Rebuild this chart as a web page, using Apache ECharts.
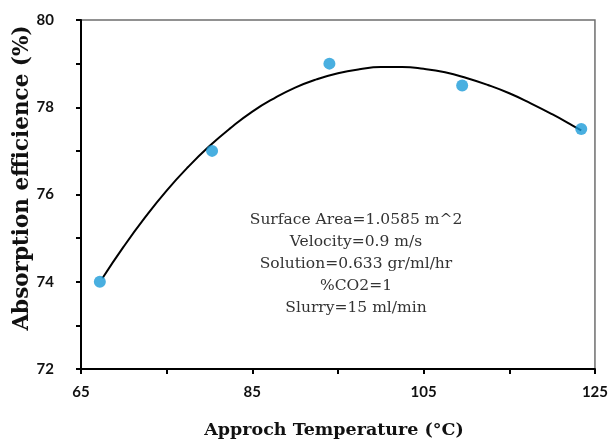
<!DOCTYPE html>
<html>
<head>
<meta charset="utf-8">
<script src="https://cdn.jsdelivr.net/npm/echarts@6/dist/echarts.min.js"></script>
<style>html,body{margin:0;padding:0;background:#fff}#chart{width:611px;height:440px}</style>
</head>
<body>
<div id="chart"></div>
<script>
// measured points
const tempValues = [67.2, 80.3, 94.0, 109.5, 123.4];
const effValues = [74.0, 77.0, 79.0, 78.5, 77.5];
// trend curve
const curveX = [67.5, 70, 72.5, 75, 77.5, 80, 82.5, 85, 87.5, 90, 92.5, 95, 97.5, 100, 102.5, 105, 107.5, 110, 112.5, 115, 117.5, 120, 122.5, 123.4];
const curveY = [74.08, 74.81, 75.48, 76.09, 76.63, 77.11, 77.53, 77.9, 78.2, 78.45, 78.64, 78.78, 78.87, 78.92, 78.92, 78.88, 78.8, 78.67, 78.51, 78.32, 78.09, 77.84, 77.57, 77.47];
const xLabels = [65, 85, 105, 125];
const yLabels = [72, 74, 76, 78, 80];
const noteLines = ['Surface Area=1.0585 m^2', 'Velocity=0.9 m/s', 'Solution=0.633 gr/ml/hr', '%CO2=1', 'Slurry=15 ml/min'];
const xTitle = 'Approch Temperature (°C)';
const yTitle = 'Absorption efficience (%)';

const chart = echarts.init(document.getElementById('chart'), null, {renderer: 'canvas'});
const scatterData = tempValues.map((x, i) => [x, effValues[i]]);
const curveData = curveX.map((x, i) => [x, curveY[i]]);

chart.setOption({
  animation: false,
  backgroundColor: '#fff',
  grid: {left: 81, top: 20, width: 514, height: 349, show: true, borderColor: '#6e6e6e', borderWidth: 1.5, backgroundColor: 'transparent'},
  xAxis: {
    type: 'value', min: 65, max: 125, interval: 10,
    axisLine: {show: true, lineStyle: {color: '#000', width: 2}},
    axisTick: {show: true, length: 5, lineStyle: {color: '#000', width: 2}},
    splitLine: {show: false},
    axisLabel: {
      margin: 16, color: '#111', fontFamily: 'Lato', fontWeight: 'bold', fontSize: 15,
      formatter: v => xLabels.includes(v) ? String(v) : ''
    }
  },
  yAxis: {
    type: 'value', min: 72, max: 80, interval: 1,
    axisLine: {show: true, lineStyle: {color: '#000', width: 2}},
    axisTick: {show: true, length: 5, lineStyle: {color: '#000', width: 2}},
    splitLine: {show: false},
    axisLabel: {
      margin: 27, color: '#111', fontFamily: 'Lato', fontWeight: 'bold', fontSize: 15,
      formatter: v => yLabels.includes(v) ? String(v) : ''
    }
  },
  graphic: [
    {type: 'text', x: 334, y: 430, style: {text: xTitle, align: 'center', verticalAlign: 'middle', fill: '#111', font: 'bold 17.5px "DejaVu Serif"'}},
    {type: 'text', x: 22, y: 178, rotation: Math.PI / 2, style: {text: yTitle, align: 'center', verticalAlign: 'middle', fill: '#111', font: 'bold 21.5px "DejaVu Serif"'}},
    {type: 'text', x: 356, y: 209, style: {text: noteLines.join('\n'), align: 'center', lineHeight: 22, fill: '#333', font: '15.5px "DejaVu Serif"'}}
  ],
  series: [
    {type: 'line', data: curveData, smooth: true, showSymbol: false, lineStyle: {color: '#000', width: 2}, z: 2},
    {type: 'scatter', data: scatterData, symbolSize: 12, itemStyle: {color: '#1b9bd8'}, z: 3}
  ]
});
</script>
</body>
</html>
